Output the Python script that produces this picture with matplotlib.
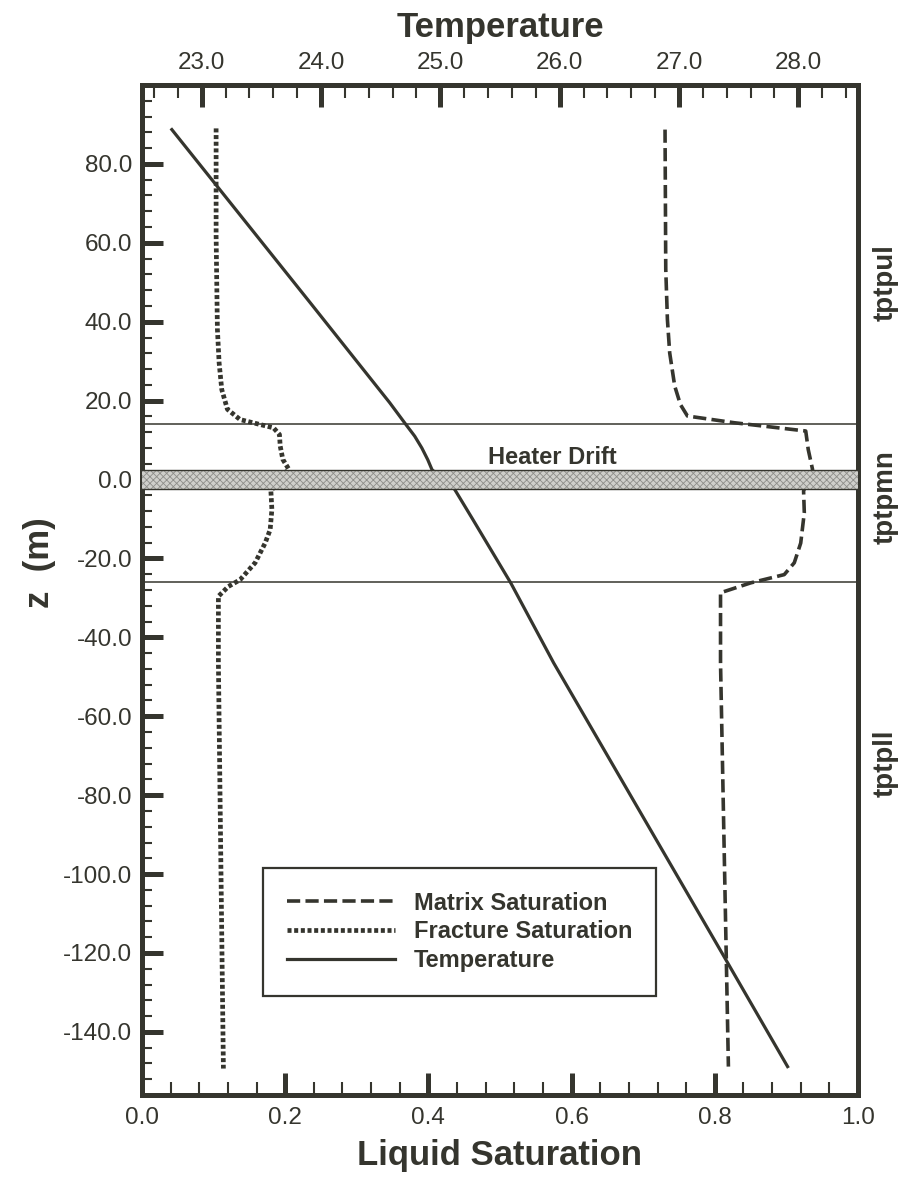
import matplotlib
matplotlib.use("Agg")
import matplotlib.pyplot as plt
from matplotlib import transforms
from matplotlib.ticker import MultipleLocator, FixedLocator, FormatStrFormatter

plt.rcParams['font.family'] = ['Liberation Sans', 'DejaVu Sans']
plt.rcParams['lines.scale_dashes'] = False

ink = '#35352e'

# temperature profile (deg C) vs elevation z (m)
z_temp = [88.7, 44.8, 19.5, 14.0, 11.0, 8.0, 5.0, 2.5, -2.5, -5.0, -10.0, -26.2, -46.5, -120.0, -148.8]
temp = [22.75, 23.91, 24.575, 24.71, 24.785, 24.845, 24.895, 24.93, 25.12, 25.17, 25.27, 25.59, 25.95, 27.36, 27.91]

# fracture liquid saturation
z_frac = [89.0, 61.8, 38.1, 29.6, 22.8, 17.8, 15.2, 13.1, 11.4, 8.5, 5.1, 2.7,
          -2.9, -7.6, -12.7, -16.1, -21.1, -25.4, -27.1, -29.6, -46.5, -149.3]
s_frac = [0.1035, 0.1035, 0.1053, 0.1077, 0.1114, 0.1193, 0.137, 0.1837, 0.192, 0.193, 0.1967, 0.2047,
          0.180, 0.1814, 0.179, 0.172, 0.158, 0.137, 0.1207, 0.1067, 0.1067, 0.1137]

# matrix liquid saturation
z_mat = [88.7, 53.3, 40.6, 32.1, 23.7, 19.0, 16.1, 14.4, 12.3, 7.6, 2.5,
         -2.9, -8.4, -16.1, -21.1, -24.1, -26.2, -28.7, -46.5, -148.8]
s_mat = [0.7305, 0.7315, 0.7338, 0.737, 0.744, 0.752, 0.7618, 0.827, 0.927, 0.9305, 0.9366,
         0.924, 0.925, 0.920, 0.911, 0.897, 0.850, 0.808, 0.808, 0.819]

# unit boundaries and drift
unit_bounds = [14.0, -26.0]
drift = (-2.5, 2.5)
units = ['tptpul', 'tptpmn', 'tptpll']
unit_z = [50.0, -4.4, -72.0]
z_major = [-140, -120, -100, -80, -60, -40, -20, 0, 20, 40, 60, 80]

fig = plt.figure(figsize=(9.01, 11.77), dpi=100)
ax = fig.add_axes([142/901, 1-1095/1177, 716/901, 1010/1177])
ax2 = ax.twiny()

ax.set_xlim(0, 1)
ax.set_ylim(-156, 100)
ax2.set_xlim(22.5, 28.5)

lm, = ax.plot(s_mat, z_mat, color=ink, lw=2.6, dashes=(9.5, 3.8), solid_joinstyle='round')
lf, = ax.plot(s_frac, z_frac, color=ink, lw=3.4, dashes=(2.9, 1.9), dash_capstyle='butt')
lt, = ax2.plot(temp, z_temp, color=ink, lw=2.3, solid_joinstyle='round')

for zb in unit_bounds:
    ax2.axhline(zb, color=ink, lw=1.1, zorder=4)

# heater drift band: stippled grey with dark outline
plt.rcParams['hatch.color'] = '#8e8e8a'
plt.rcParams['hatch.linewidth'] = 0.6
ax2.axhspan(drift[0], drift[1], facecolor='#cfcfcb', lw=0, hatch='xxxxx', zorder=5)
for zb in drift:
    ax2.axhline(zb, color=ink, lw=1.0, zorder=5.5)
ax2.text(0.573, 4.0, 'Heater Drift', transform=transforms.blended_transform_factory(ax.transAxes, ax.transData),
         ha='center', va='baseline', fontsize=17, fontweight='bold', color=ink, zorder=6)

for lab, zc in zip(units, unit_z):
    ax.text(1.038, zc, lab, transform=transforms.blended_transform_factory(ax.transAxes, ax.transData),
            rotation=90, ha='center', va='center', fontsize=20, fontweight='bold', color=ink)

# ticks
ax.xaxis.set_major_locator(MultipleLocator(0.2))
ax.xaxis.set_minor_locator(MultipleLocator(0.04))
ax.xaxis.set_major_formatter(FormatStrFormatter('%.1f'))
ax.yaxis.set_major_locator(FixedLocator(z_major))
ax.yaxis.set_minor_locator(MultipleLocator(4))
ax.yaxis.set_major_formatter(FormatStrFormatter('%.1f'))
ax2.xaxis.set_major_locator(MultipleLocator(1.0))
ax2.xaxis.set_minor_locator(MultipleLocator(0.2))
ax2.xaxis.set_major_formatter(FormatStrFormatter('%.1f'))

ax.tick_params(axis='x', which='major', direction='in', length=16, width=3.6, pad=9,
               labelsize=17.5, colors=ink)
ax.tick_params(axis='x', which='minor', direction='in', length=9.5, width=1.5, colors=ink)
ax.tick_params(axis='y', which='major', direction='in', length=15, width=3.6, pad=7,
               labelsize=17.5, colors=ink, right=False)
ax.tick_params(axis='y', which='minor', direction='in', length=7.5, width=1.5, colors=ink, right=False)
ax2.tick_params(axis='x', which='major', direction='in', length=16, width=3.6, pad=8,
                labelsize=17.5, colors=ink)
ax2.tick_params(axis='x', which='minor', direction='in', length=9.5, width=1.5, colors=ink)

for a in (ax, ax2):
    for sp in a.spines.values():
        sp.set_linewidth(3.6)
        sp.set_color(ink)

fig.text(500/901, 1-37/1177, 'Temperature', ha='center', va='baseline',
         fontsize=25, fontweight='bold', color=ink)
fig.text(500/901, 1-1165/1177, 'Liquid Saturation', ha='center', va='baseline',
         fontsize=25, fontweight='bold', color=ink)
fig.text(40/901, 1-563/1177, 'z  (m)', rotation=90, ha='center', va='center',
         fontsize=25, fontweight='bold', color=ink)

leg = ax2.legend([lm, lf, lt], ['Matrix Saturation', 'Fracture Saturation', 'Temperature'],
                 loc='lower left', bbox_to_anchor=((263-142)/716, (1095-996)/1010),
                 bbox_transform=ax.transAxes, borderaxespad=0, fancybox=False,
                 prop={'size': 17, 'weight': 'bold'}, handlelength=4.6, handletextpad=0.8,
                 labelspacing=0.25, borderpad=1.0, framealpha=1)
leg.get_frame().set_edgecolor(ink)
leg.get_frame().set_linewidth(1.6)
for t in leg.get_texts():
    t.set_color(ink)
leg.set_zorder(10)

fig.savefig('out.png', dpi=100)
